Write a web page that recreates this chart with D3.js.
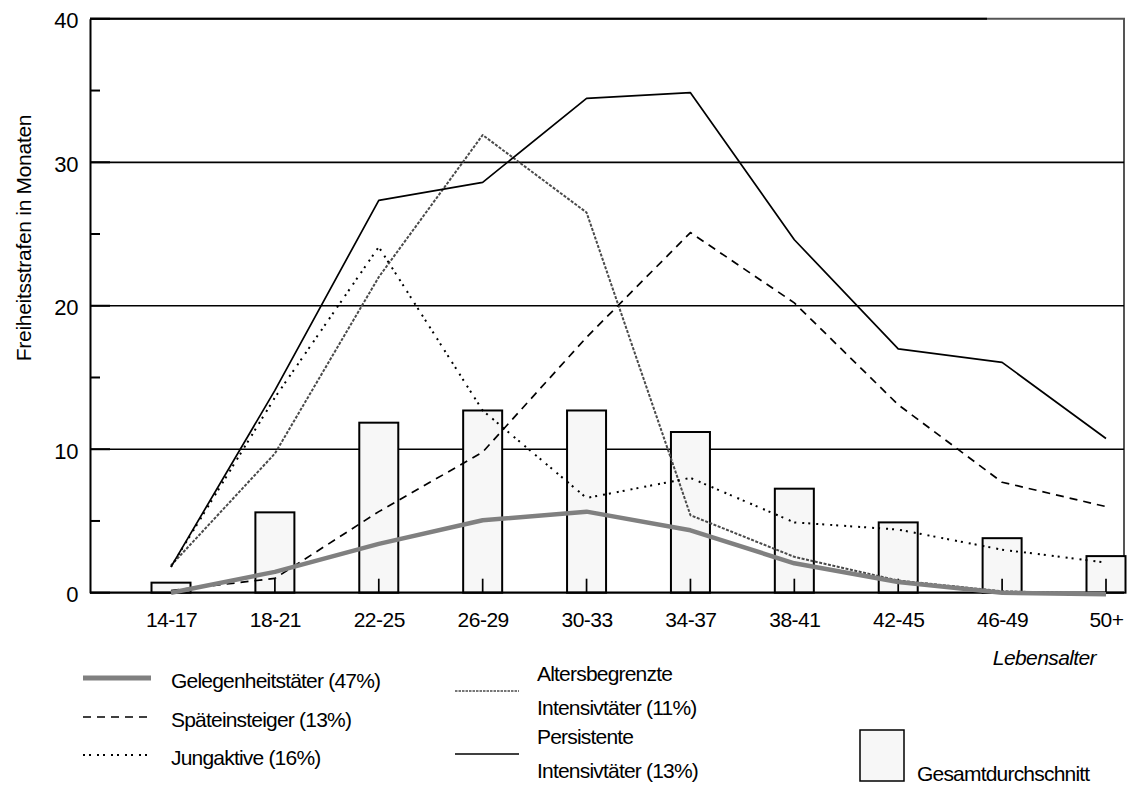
<!DOCTYPE html>
<html>
<head>
<meta charset="utf-8">
<script src="https://cdn.jsdelivr.net/npm/d3@7/dist/d3.min.js"></script>
<style>
  body { margin: 0; background: #fff; }
  text { font-family: "Liberation Sans", Arial, sans-serif; fill: #000; }
</style>
</head>
<body>
<script>
// Altersgruppen (x-Achse)
const ageGroups = ["14-17", "18-21", "22-25", "26-29", "30-33", "34-37", "38-41", "42-45", "46-49", "50+"];

// Gesamtdurchschnitt (Säulen)
const overallAvg = [0.7, 5.6, 11.85, 12.7, 12.7, 11.2, 7.25, 4.9, 3.8, 2.55];

// Verlaufsgruppen
const gelegenheit = [0.0, 1.45, 3.4, 5.05, 5.65, 4.35, 2.05, 0.75, 0.0, -0.1];
const spaet = [0.15, 1.0, 5.65, 9.8, 17.8, 25.1, 20.2, 13.1, 7.7, 6.0];
const jung = [1.8, 13.6, 24.1, 12.7, 6.6, 8.0, 4.9, 4.4, 3.0, 2.1];
const altersbegrenzt = [1.9, 9.7, 22.0, 31.9, 26.5, 5.4, 2.5, 0.85, 0.1, -0.1];
const persistent = [1.8, 14.1, 27.35, 28.6, 34.45, 34.85, 24.6, 17.0, 16.05, 10.75];

// Achsenbeschriftungen
const yTicks = [0, 10, 20, 30, 40];
const yMinorTicks = [5, 15, 25, 35];

const width = 1127,
    height = 785,
    fontSize = 21,
    plot = { left: 90, right: 1124, top: 18.8, bottom: 592.7 },
    svg = d3.select("body")
    .append("svg")
    .attr("width", width)
    .attr("height", height);

//x比例尺
const xScale = d3.scalePoint()
    .domain(ageGroups)
    .range([171, 1106]);

//y比例尺
const yScale = d3.scaleLinear()
    .domain([0, 40])
    .range([plot.bottom, plot.top]);

// Rahmen oben + rechts
svg.append("path")
    .attr("d", `M${plot.left},${plot.top}H${plot.right}V${plot.bottom}`)
    .attr("fill", "none")
    .attr("stroke", "#555")
    .attr("stroke-width", 2);
svg.append("line")
    .attr("x1", plot.left).attr("x2", 987)
    .attr("y1", yScale(40)).attr("y2", yScale(40))
    .attr("stroke", "#000").attr("stroke-width", 2);

// Gitterlinien 10/20/30
svg.selectAll(".grid")
    .data([10, 20, 30])
    .enter()
    .append("line")
    .attr("class", "grid")
    .attr("x1", plot.left).attr("x2", plot.right)
    .attr("y1", d => yScale(d)).attr("y2", d => yScale(d))
    .attr("stroke", "#000")
    .attr("stroke-width", 1.7);

// y-Achse
const yAxis = d3.axisLeft(yScale)
    .tickValues(yTicks)
    .tickSize(0)
    .tickPadding(12)
    .tickFormat(d3.format("d"));
const gy = svg.append("g")
    .attr("transform", `translate(${plot.left},0)`)
    .call(yAxis);
gy.select(".domain").attr("stroke", "#000").attr("stroke-width", 2);
gy.selectAll("text")
    .attr("font-size", fontSize + 1)
    .attr("letter-spacing", -0.4)
    .attr("dy", "0.4em")
    .attr("font-family", "Liberation Sans, Arial, sans-serif");

// Haupt- und Nebenstriche nach innen
svg.selectAll(".ytick")
    .data(yTicks.concat(yMinorTicks))
    .enter()
    .append("line")
    .attr("class", "ytick")
    .attr("x1", plot.left)
    .attr("x2", d => plot.left + (d % 10 === 0 ? 20 : 10))
    .attr("y1", d => yScale(d)).attr("y2", d => yScale(d))
    .attr("stroke", "#000")
    .attr("stroke-width", 2);

// Säulen Gesamtdurchschnitt
const barW = 39;
svg.selectAll(".bar")
    .data(overallAvg)
    .enter()
    .append("rect")
    .attr("class", "bar")
    .attr("x", (d, i) => xScale(ageGroups[i]) - barW / 2)
    .attr("y", d => yScale(d))
    .attr("width", barW)
    .attr("height", d => yScale(0) - yScale(d))
    .attr("fill", "#f7f7f7")
    .attr("stroke", "#000")
    .attr("stroke-width", 2);

// x-Achse
const xAxis = d3.axisBottom(xScale)
    .tickSize(0)
    .tickPadding(19);
const gx = svg.append("g")
    .attr("transform", `translate(0,${plot.bottom})`)
    .call(xAxis);
gx.select(".domain").remove();
gx.selectAll("text")
    .attr("font-size", fontSize)
    .attr("letter-spacing", -0.5)
    .attr("font-family", "Liberation Sans, Arial, sans-serif");
svg.append("line")
    .attr("x1", plot.left).attr("x2", plot.right)
    .attr("y1", plot.bottom).attr("y2", plot.bottom)
    .attr("stroke", "#000").attr("stroke-width", 2.2);

// kleine Striche in den Säulen
svg.selectAll(".xtick")
    .data(ageGroups.slice(1))
    .enter()
    .append("line")
    .attr("class", "xtick")
    .attr("x1", d => xScale(d)).attr("x2", d => xScale(d))
    .attr("y1", plot.bottom).attr("y2", plot.bottom - 14)
    .attr("stroke", "#000")
    .attr("stroke-width", 1.7);

// Linienstile
const styles = {
    gelegenheit: { stroke: "#808080", width: 4.5, dash: null },
    spaet: { stroke: "#000", width: 1.7, dash: "8,6" },
    jung: { stroke: "#000", width: 2, dash: "2,4,2,6" },
    altersbegrenzt: { stroke: "#4a4a4a", width: 2, dash: "3,1.5" },
    persistent: { stroke: "#000", width: 1.7, dash: null }
};

const line = d3.line()
    .x((d, i) => xScale(ageGroups[i]))
    .y(d => yScale(d));

const series = [
    ["altersbegrenzt", altersbegrenzt],
    ["jung", jung],
    ["spaet", spaet],
    ["persistent", persistent],
    ["gelegenheit", gelegenheit]
];

series.forEach(([key, values]) => {
    const s = styles[key];
    svg.append("path")
        .datum(values)
        .attr("d", line)
        .attr("fill", "none")
        .attr("stroke", s.stroke)
        .attr("stroke-width", s.width)
        .attr("stroke-dasharray", s.dash)
        .attr("stroke-linejoin", "round");
});

// Achsentitel
svg.append("text")
    .attr("transform", "translate(31,238) rotate(-90)")
    .attr("text-anchor", "middle")
    .attr("font-size", fontSize)
    .attr("letter-spacing", -0.3)
    .text("Freiheitsstrafen in Monaten");

svg.append("text")
    .attr("x", 1096)
    .attr("y", 665)
    .attr("text-anchor", "end")
    .attr("font-size", fontSize)
    .attr("font-style", "italic")
    .attr("letter-spacing", -0.6)
    .text("Lebensalter");

// Legende
const legendItems = [
    { key: "gelegenheit", x: 83, y: 678, lines: ["Gelegenheitstäter (47%)"] },
    { key: "spaet", x: 83, y: 717, lines: ["Späteinsteiger (13%)"] },
    { key: "jung", x: 83, y: 755, lines: ["Jungaktive (16%)"] },
    { key: "altersbegrenzt", x: 455, y: 691, lines: ["Altersbegrenzte", "Intensivtäter (11%)"] },
    { key: "persistent", x: 455, y: 754, lines: ["Persistente", "Intensivtäter (13%)"] }
];

legendItems.forEach(item => {
    const s = styles[item.key],
        single = item.lines.length === 1,
        tx = item.x + (single ? 88 : 82);
    svg.append("line")
        .attr("x1", item.x).attr("x2", item.x + (single ? 68 : 64))
        .attr("y1", item.y).attr("y2", item.y)
        .attr("stroke", s.stroke)
        .attr("stroke-width", item.key === "gelegenheit" ? 5 : (item.key === "altersbegrenzt" ? 1.5 : s.width))
        .attr("stroke-dasharray", item.key === "altersbegrenzt" ? "2.5,1" : s.dash);
    const t = svg.append("text")
        .attr("x", tx)
        .attr("y", single ? item.y + 10 : item.y - 10)
        .attr("font-size", fontSize)
        .attr("letter-spacing", -0.8);
    item.lines.forEach((l, i) => {
        t.append("tspan")
            .attr("x", tx)
            .attr("dy", i === 0 ? 0 : 34)
            .text(l);
    });
});

svg.append("rect")
    .attr("x", 860).attr("y", 730)
    .attr("width", 44).attr("height", 51)
    .attr("fill", "#f7f7f7")
    .attr("stroke", "#000")
    .attr("stroke-width", 1.5);
svg.append("text")
    .attr("x", 917).attr("y", 781)
    .attr("font-size", fontSize)
    .attr("letter-spacing", -0.8)
    .text("Gesamtdurchschnitt");
</script>
</body>
</html>
